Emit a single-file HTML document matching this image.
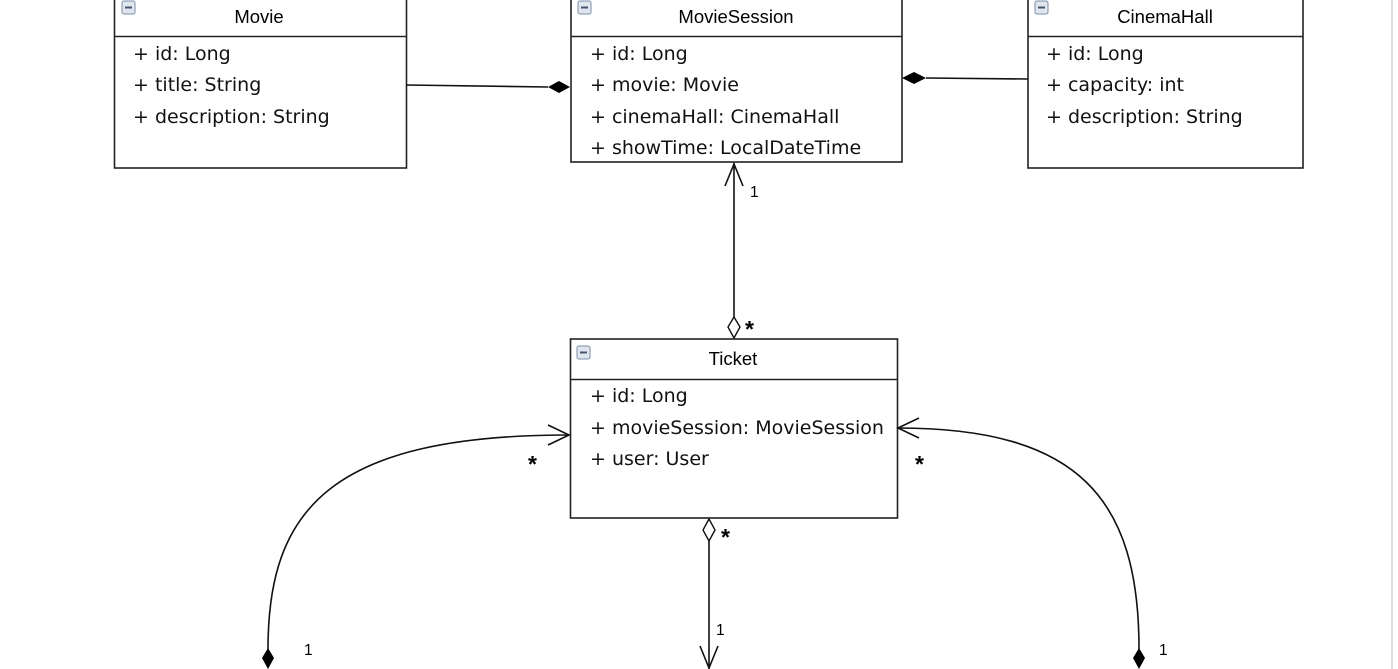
<!DOCTYPE html>
<html><head><meta charset="utf-8"><style>
html,body{margin:0;padding:0;background:#fff;width:1398px;height:669px;overflow:hidden}
.h{font-family:"Liberation Sans",sans-serif;font-size:18.5px;fill:#000}
.a{font-family:"DejaVu Sans",sans-serif;font-size:19px;fill:#111}
.m{font-family:"Liberation Sans",sans-serif;font-size:15.5px;fill:#000}
.s{font-family:"Liberation Sans",sans-serif;font-size:23px;font-weight:bold;fill:#000}
</style></head><body>
<svg width="1398" height="669" xmlns="http://www.w3.org/2000/svg">
<defs>
<g id="ic"><rect x="0" y="0" width="13" height="13" rx="2" fill="#dfe6ee" stroke="#7a8fa8" stroke-width="1"/><rect x="3" y="5.5" width="7" height="2" fill="#44566e"/></g>
</defs>
<line x1="1392" y1="0" x2="1392" y2="669" stroke="#ddd" stroke-width="2"/>
<g fill="#fff" stroke="#222" stroke-width="1.6">
<rect x="114.5" y="-20" width="292" height="188"/>
<line x1="114" y1="36.5" x2="406" y2="36.5"/>
<rect x="571" y="-20" width="331" height="182"/>
<line x1="571" y1="36.5" x2="902" y2="36.5"/>
<rect x="1028" y="-20" width="275" height="188"/>
<line x1="1028" y1="36.5" x2="1303" y2="36.5"/>
<rect x="570.5" y="339" width="327" height="179"/>
<line x1="570" y1="379.5" x2="897" y2="379.5"/>
</g>
<use href="#ic" x="122" y="1"/><use href="#ic" x="578" y="1"/><use href="#ic" x="1035" y="1"/><use href="#ic" x="577" y="346"/>
<text class="h" x="259" y="23" text-anchor="middle">Movie</text>
<text class="h" x="736" y="23" text-anchor="middle">MovieSession</text>
<text class="h" x="1165" y="23" text-anchor="middle">CinemaHall</text>
<text class="h" x="733" y="365" text-anchor="middle">Ticket</text>
<g class="a">
<text x="133" y="60">+ id: Long</text><text x="133" y="91">+ title: String</text><text x="133" y="123">+ description: String</text>
<text x="590" y="60">+ id: Long</text><text x="590" y="91">+ movie: Movie</text><text x="590" y="123">+ cinemaHall: CinemaHall</text><text x="590" y="154">+ showTime: LocalDateTime</text>
<text x="1046" y="60">+ id: Long</text><text x="1046" y="91">+ capacity: int</text><text x="1046" y="123">+ description: String</text>
<text x="590" y="402">+ id: Long</text><text x="590" y="434">+ movieSession: MovieSession</text><text x="590" y="465">+ user: User</text>
</g>
<g stroke="#111" stroke-width="1.6" fill="none">
<line x1="406" y1="85" x2="548" y2="87"/>
<line x1="926" y1="78" x2="1028" y2="79"/>
<line x1="734" y1="163" x2="734" y2="317"/>
<polyline points="725,186 734,164 743,186"/>
<line x1="709" y1="541" x2="709" y2="669"/>
<polyline points="700,646 709,668 718,646"/>
<path d="M268,649 C268,510 330,435 569,435"/>
<polyline points="548,425 569,435 548,445"/>
<path d="M1139,649 C1139,500 1080,428 898,428"/>
<polyline points="919,418 898,428 919,438"/>
</g>
<polygon points="548,87 559,81 570,87 559,93" fill="#000"/>
<polygon points="902,78 914,72 926,78 914,84" fill="#000"/>
<polygon points="734,317 740,327 734,338 728,327" fill="#fff" stroke="#111" stroke-width="1.4"/>
<polygon points="709,519 715,530 709,541 703,530" fill="#fff" stroke="#111" stroke-width="1.4"/>
<polygon points="268,648 274,658 268,669 262,658" fill="#000"/>
<polygon points="1139,648 1145,658 1139,669 1133,658" fill="#000"/>
<text class="m" x="750" y="197">1</text>
<text class="s" x="745" y="337">*</text>
<text class="s" x="721" y="545">*</text>
<text class="m" x="716" y="635">1</text>
<text class="s" x="528" y="472">*</text>
<text class="m" x="304" y="655">1</text>
<text class="s" x="915" y="472">*</text>
<text class="m" x="1159" y="655">1</text>
</svg>
</body></html>
